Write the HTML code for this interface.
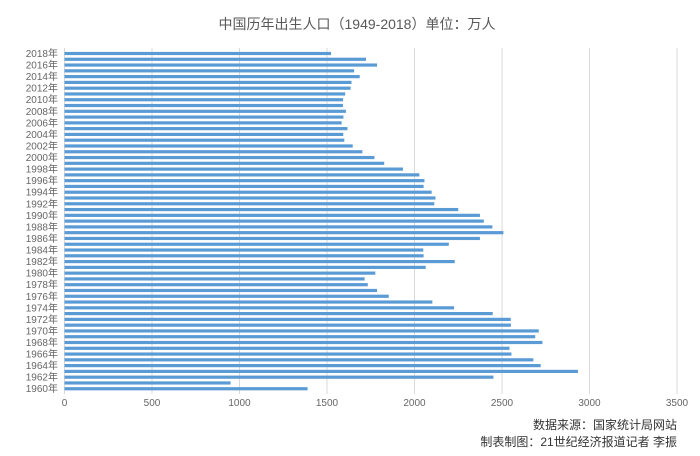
<!DOCTYPE html>
<html><head><meta charset="utf-8"><style>
body{margin:0;background:#fff;}
svg{display:block;font-family:"Liberation Sans","Noto Sans CJK SC",sans-serif;}
</style></head><body>
<svg id="chart" width="700" height="456">
<text x="357" y="29" text-anchor="middle" font-size="14" fill="#595959">中国历年出生人口（1949-2018）单位：万人</text>
<g id="grid"></g><g id="bars"></g><g id="ylabels"></g><g id="xlabels"></g>
<text x="677" y="429" text-anchor="end" font-size="12" fill="#333">数据来源：国家统计局网站</text>
<text x="677" y="446" text-anchor="end" font-size="12" fill="#333">制表制图：21世纪经济报道记者 李振</text>
</svg>
<script>
const years=[];for(let y=1960;y<=2018;y++)years.push(y);
const births=[1389,949,2451,2934,2721,2679,2554,2543,2731,2690,2710,2551,2550,2447,2226,2102,1853,1786,1733,1715,1776,2064,2230,2052,2050,2196,2374,2508,2445,2396,2374,2250,2113,2120,2098,2052,2057,2028,1934,1827,1771,1702,1647,1599,1593,1617,1584,1594,1608,1591,1592,1604,1635,1640,1687,1655,1786,1723,1523];
const xTicks=[0,500,1000,1500,2000,2500,3000,3500];
const NS="http://www.w3.org/2000/svg";
const x=v=>64.5+v*0.175;
const y=yr=>53.5+(2018-yr)*5.78;
function mk(t,a,p){const e=document.createElementNS(NS,t);for(const k in a)e.setAttribute(k,a[k]);p.appendChild(e);return e;}
const grid=document.getElementById('grid'),bars=document.getElementById('bars'),yl=document.getElementById('ylabels'),xl=document.getElementById('xlabels');
xTicks.forEach(t=>{
 const l=mk('line',{x1:x(t),x2:x(t),y1:48,y2:394,stroke:'#d9d9d9','stroke-width':1},grid);
 
 
 const tx=mk('text',{x:x(t),y:406,'text-anchor':'middle','font-size':10,fill:'#666'},xl);
 tx.textContent=t;
 
 
});
years.forEach((yr,i)=>{
 const r=mk('rect',{x:x(0),y:y(yr)-1.6,width:x(births[i])-x(0),height:3.2,fill:'#5b9bd5'},bars);
 
 
 if(yr%2===0){
  const tx=mk('text',{x:58,y:y(yr)+3.5,'text-anchor':'end','font-size':10,fill:'#666'},yl);
  tx.textContent=yr+'年';
  
  
 }
});
</script>
</body></html>
